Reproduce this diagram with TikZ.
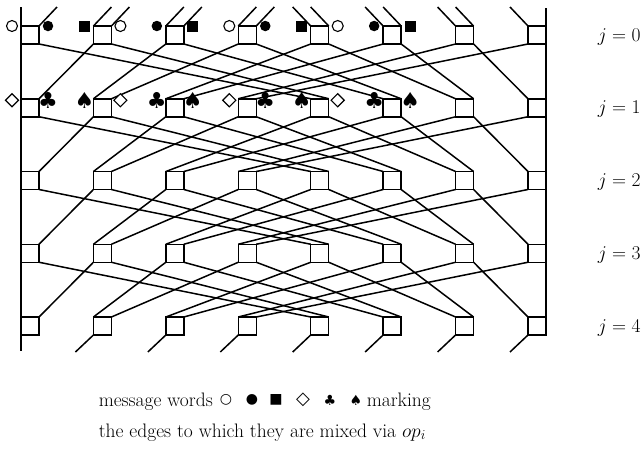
\RequirePackage{fix-cm}
\documentclass[tikz,border=0pt]{standalone}
\usepackage{fontspec}
\newfontfamily\symfont{DejaVu Sans}
\usetikzlibrary{shapes.geometric}
\begin{document}
\begin{tikzpicture}[x=1pt,y=-1pt,line width=1.5pt,
  cell/.style={draw,rectangle,minimum size=18pt,inner sep=0pt,outer sep=0pt},
  mopen/.style={circle,draw,fill=white,minimum size=11pt,inner sep=0pt,line width=1.1pt},
  mdot/.style={circle,fill,minimum size=10.5pt,inner sep=0pt},
  msq/.style={rectangle,fill,minimum size=11pt,inner sep=0pt},
  mdia/.style={diamond,draw,fill=white,minimum size=13.5pt,inner sep=0pt,line width=1.1pt},
  msuit/.style={inner sep=0pt,font=\symfont\fontsize{22}{22}\selectfont},
  lsym/.style={inner sep=0pt,font=\symfont\fontsize{14}{14}\selectfont},
  lab/.style={anchor=base west,font=\fontsize{19.5}{21}\selectfont,inner sep=0pt},
  legend/.style={anchor=base west,font=\fontsize{19.5}{21}\selectfont,inner sep=0pt}]
\useasboundingbox (0,0) rectangle (641,458);
% boxes
\foreach \r in {0,...,4}{
  \foreach \c in {0,...,7}{
    \node[cell] (b\r\c) at ({30+72.43*\c},{35+72.75*\r}) {};
  }
}
% wires between rows (inverse perfect shuffle)
\foreach \r in {0,...,3}{
  \pgfmathtruncatemacro\rn{\r+1}
  \foreach \i in {1,...,14}{
    \pgfmathtruncatemacro\sc{floor(\i/2)}
    \pgfmathtruncatemacro\sodd{mod(\i,2)}
    \pgfmathtruncatemacro\dw{\sodd==0 ? \i/2 : 8+(\i-1)/2}
    \pgfmathtruncatemacro\dc{floor(\dw/2)}
    \pgfmathtruncatemacro\dodd{mod(\dw,2)}
    \ifnum\sodd=0 \def\sa{south west}\else\def\sa{south east}\fi
    \ifnum\dodd=0 \def\da{north west}\else\def\da{north east}\fi
    \draw (b\r\sc.\sa) -- (b\rn\dc.\da);
  }
}
% top stubs
\foreach \i in {1,...,14}{
  \pgfmathtruncatemacro\sc{floor(\i/2)}
  \pgfmathtruncatemacro\sodd{mod(\i,2)}
  \ifnum\sodd=0 \def\sa{north west}\else\def\sa{north east}\fi
  \ifnum\i<8 \def\stx{18}\else\def\stx{-18}\fi
  \draw (b0\sc.\sa) -- ++(\stx,-19) coordinate (top\i);
}
% bottom stubs
\foreach \c in {1,...,7}{
  \draw (b4\c.south west) -- ++(-18,17) coordinate (bot\c);
}
% side lines
\coordinate (lt) at (21,7);
\coordinate (lb) at (21,351);
\coordinate (rt) at (546,8);
\draw (lt) -- (lb);
\draw (rt) -- (rt |- b47.south);
% markers row 0
\foreach \i/\sty in {0/mopen,1/mdot,2/msq,3/mopen,4/mdot,5/msq,6/mopen,7/mdot,8/msq,9/mopen,10/mdot,11/msq}{
  \pgfmathtruncatemacro\sc{floor(\i/2)}
  \pgfmathtruncatemacro\sodd{mod(\i,2)}
  \ifnum\sodd=0
    \node[\sty] (m0\i) at ([xshift=-9pt]b0\sc.north west) {};
  \else
    \node[\sty] (m0\i) at ([xshift=9pt]b0\sc.north east) {};
  \fi
}
% markers row 1
\foreach \i/\sty/\txt in {0/mdia/,1/msuit/♣,2/msuit/♠,3/mdia/,4/msuit/♣,5/msuit/♠,6/mdia/,7/msuit/♣,8/msuit/♠,9/mdia/,10/msuit/♣,11/msuit/♠}{
  \pgfmathtruncatemacro\sc{floor(\i/2)}
  \pgfmathtruncatemacro\sodd{mod(\i,2)}
  \ifnum\sodd=0
    \node[\sty] (m1\i) at ([xshift=-9pt,yshift=-1.5pt]b1\sc.north west) {\txt};
  \else
    \node[\sty] (m1\i) at ([xshift=9pt,yshift=-1.5pt]b1\sc.north east) {\txt};
  \fi
}
% labels
\foreach \r in {0,...,4}{
  \node[lab] (j\r) at (597,{41+72.75*\r}) {$j = \r$};
}
% legend
\node[legend] (leg1) at (98,406) {message words};
\node[lsym] (s1) at (226,400) {○};
\node[lsym] (s2) at (252,400) {●};
\node[lsym] (s3) at (276,400) {■};
\node[lsym,font=\symfont\fontsize{18}{18}\selectfont] (s4) at (303,400) {◇};
\node[lsym] (s5) at (330,400) {♣};
\node[lsym] (s6) at (356,400) {♠};
\node[legend] (leg1b) at (366,406) {marking};
\node[legend] (leg2) at (98,437) {the edges to which they are mixed via $op_i$};
\end{tikzpicture}
\end{document}
